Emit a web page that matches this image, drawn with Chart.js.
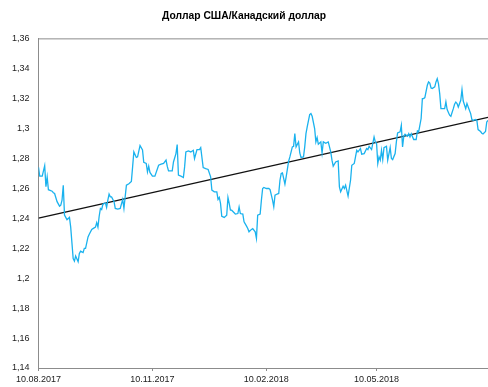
<!DOCTYPE html>
<html lang="ru">
<head>
<meta charset="utf-8">
<title>Доллар США/Канадский доллар</title>
<script src="https://cdn.jsdelivr.net/npm/chart.js@4.4.1/dist/chart.umd.min.js"></script>
<style>
  html, body { margin: 0; padding: 0; background: #fff; }
  #chart { display: block; }
</style>
</head>
<body>
<canvas id="chart" width="488" height="387"></canvas>
<script>
// days counted from 10.08.2017
const days = [
  0, 1, 3, 5, 6, 7, 8, 11, 12, 13, 15, 17, 18, 19, 20, 21, 23, 25, 26, 28,
  29, 30, 32, 33, 34, 36, 37, 38, 40, 41, 43, 44, 46, 47, 48, 49, 50, 51, 52, 54,
  55, 56, 57, 58, 59, 61, 62, 64, 66, 68, 69, 71, 73, 75, 76, 77, 79, 80, 82, 84,
  85, 87, 88, 89, 90, 92, 94, 97, 99, 101, 103, 104, 105, 108, 109, 111, 112, 113, 115, 117,
  118, 119, 121, 123, 125, 126, 128, 130, 131, 133, 135, 137, 139, 140, 142, 144, 145, 146, 147, 148,
  150, 152, 153, 154, 155, 156, 158, 159, 161, 162, 163, 165, 166, 168, 169, 170, 172, 173, 175, 176,
  177, 179, 180, 181, 182, 184, 186, 187, 189, 190, 191, 192, 194, 195, 196, 197, 199, 200, 202, 203,
  205, 206, 207, 208, 210, 211, 212, 214, 215, 216, 217, 219, 220, 221, 223, 224, 225, 226, 228, 229,
  230, 232, 234, 236, 237, 238, 240, 242, 243, 244, 246, 247, 248, 250, 252, 253, 255, 256, 257, 258,
  260, 261, 263, 265, 266, 267, 269, 271, 272, 273, 274, 275, 276, 277, 278, 279, 281, 282, 284, 285,
  286, 288, 289, 290, 292, 293, 294, 295, 296, 298, 299, 300, 301, 303, 305, 306, 307, 309, 310, 311,
  312, 314, 315, 316, 317, 318, 320, 321, 322, 323, 324, 325, 326, 328, 329, 330, 332, 333, 335, 336,
  337, 338, 339, 341, 342, 343, 345, 346, 347, 349, 350, 351, 353, 354, 355, 357, 358, 359, 361, 362,
  363
];

const rates = [
  1.2740, 1.2680, 1.2680, 1.2750, 1.2610, 1.2675, 1.2590, 1.2580, 1.2570, 1.2565, 1.2510, 1.2480, 1.2487, 1.2520, 1.2620, 1.2420, 1.2390, 1.2405, 1.2340, 1.2130,
  1.2113, 1.2147, 1.2109, 1.2165, 1.2180, 1.2170, 1.2198, 1.2198, 1.2275, 1.2293, 1.2325, 1.2330, 1.2340, 1.2370, 1.2340, 1.2413, 1.2465, 1.2458, 1.2493, 1.2502,
  1.2471, 1.2520, 1.2560, 1.2542, 1.2542, 1.2510, 1.2465, 1.2460, 1.2465, 1.2525, 1.2465, 1.2620, 1.2630, 1.2645, 1.2742, 1.2842, 1.2805, 1.2809, 1.2885, 1.2855,
  1.2772, 1.2765, 1.2709, 1.2747, 1.2705, 1.2680, 1.2680, 1.2753, 1.2760, 1.2765, 1.2787, 1.2745, 1.2716, 1.2716, 1.2775, 1.2831, 1.2891, 1.2687, 1.2680, 1.2671,
  1.2742, 1.2842, 1.2849, 1.2842, 1.2853, 1.2798, 1.2858, 1.2858, 1.2871, 1.2738, 1.2731, 1.2725, 1.2676, 1.2587, 1.2576, 1.2576, 1.2525, 1.2538, 1.2498, 1.2413,
  1.2405, 1.2420, 1.2538, 1.2498, 1.2453, 1.2453, 1.2436, 1.2427, 1.2431, 1.2475, 1.2431, 1.2427, 1.2376, 1.2347, 1.2331, 1.2309, 1.2325, 1.2330, 1.2309, 1.2265,
  1.2420, 1.2427, 1.2520, 1.2598, 1.2605, 1.2598, 1.2598, 1.2591, 1.2520, 1.2476, 1.2553, 1.2558, 1.2565, 1.2653, 1.2698, 1.2702, 1.2627, 1.2676, 1.2780, 1.2809,
  1.2876, 1.2880, 1.2964, 1.2876, 1.2909, 1.2835, 1.2805, 1.2809, 1.2876, 1.2964, 1.3009, 1.3091, 1.3098, 1.3080, 1.2998, 1.2909, 1.2938, 1.2893, 1.2909, 1.2835,
  1.2909, 1.2900, 1.2909, 1.2842, 1.2787, 1.2747, 1.2775, 1.2782, 1.2609, 1.2576, 1.2613, 1.2598, 1.2620, 1.2547, 1.2653, 1.2753, 1.2765, 1.2809, 1.2853, 1.2842,
  1.2865, 1.2827, 1.2831, 1.2865, 1.2858, 1.2880, 1.2858, 1.2942, 1.2909, 1.2900, 1.2765, 1.2809, 1.2787, 1.2853, 1.2791, 1.2871, 1.2880, 1.2787, 1.2871, 1.2798,
  1.2791, 1.2831, 1.2909, 1.2969, 1.2976, 1.3020, 1.2876, 1.2947, 1.2960, 1.2947, 1.2964, 1.2942, 1.2964, 1.2925, 1.2925, 1.2982, 1.2976, 1.3065, 1.3198, 1.3198,
  1.3205, 1.3287, 1.3309, 1.3302, 1.3269, 1.3265, 1.3276, 1.3309, 1.3331, 1.3298, 1.3231, 1.3131, 1.3131, 1.3131, 1.3176, 1.3125, 1.3087, 1.3080, 1.3131, 1.3160,
  1.3175, 1.3165, 1.3142, 1.3187, 1.3258, 1.3182, 1.3131, 1.3165, 1.3142, 1.3098, 1.3058, 1.3053, 1.3058, 1.3053, 1.2991, 1.2978, 1.2967, 1.2962, 1.2978, 1.3042,
  1.3053
];

// linear trend over the whole period
const trendDays = [0, 363];
const trendRates = [1.2400, 1.3073];

const tickDays = [0, 92, 184, 273];
const tickLabels = ['10.08.2017', '10.11.2017', '10.02.2018', '10.05.2018'];

const axisColor = '#8c8c8c';
const labelFont = { family: 'Liberation Sans', size: 9 };

// top edge of the plot area
const plotFrame = {
  id: 'plotFrame',
  beforeDatasetsDraw(chart) {
    const { ctx, chartArea } = chart;
    ctx.save();
    ctx.strokeStyle = axisColor;
    ctx.lineWidth = 1;
    ctx.beginPath();
    ctx.moveTo(chartArea.left, chartArea.top + 0.5);
    ctx.lineTo(chartArea.right, chartArea.top + 0.5);
    ctx.stroke();
    ctx.restore();
  }
};

new Chart(document.getElementById('chart'), {
  type: 'line',
  data: {
    datasets: [
      {
        data: days.map((d, i) => ({ x: d, y: rates[i] })),
        borderColor: '#1AB2EE',
        borderWidth: 1.3,
        pointRadius: 0,
        tension: 0
      },
      {
        data: trendDays.map((d, i) => ({ x: d, y: trendRates[i] })),
        borderColor: '#111111',
        borderWidth: 1.4,
        pointRadius: 0,
        tension: 0
      }
    ]
  },
  options: {
    responsive: false,
    animation: false,
    layout: { padding: { left: 0, right: 0, top: 0, bottom: 0 } },
    plugins: {
      legend: { display: false },
      tooltip: { enabled: false },
      title: {
        display: true,
        text: 'Доллар США/Канадский доллар',
        color: '#000',
        font: { family: 'Liberation Sans', size: 10.3, weight: 'bold' },
        padding: { top: 10, bottom: 16 }
      }
    },
    scales: {
      x: {
        type: 'linear',
        min: 0,
        max: 363,
        afterBuildTicks: s => { s.ticks = tickDays.map(v => ({ value: v })); },
        afterFit: s => { s.height = 19; },
        grid: { display: true, drawOnChartArea: false, drawTicks: true, tickLength: 3, color: axisColor },
        border: { color: axisColor },
        ticks: {
          autoSkip: false,
          maxRotation: 0,
          padding: 3,
          color: '#222',
          font: labelFont,
          callback: v => tickLabels[tickDays.indexOf(v)]
        }
      },
      y: {
        min: 1.14,
        max: 1.36,
        afterFit: s => { s.width = 38.5; },
        grid: { display: false, drawTicks: false },
        border: { color: axisColor },
        ticks: {
          stepSize: 0.02,
          autoSkip: false,
          padding: 9,
          color: '#222',
          font: labelFont,
          callback: v => String(Number(v.toFixed(2))).replace('.', ',')
        }
      }
    }
  },
  plugins: [plotFrame]
});
</script>
</body>
</html>
